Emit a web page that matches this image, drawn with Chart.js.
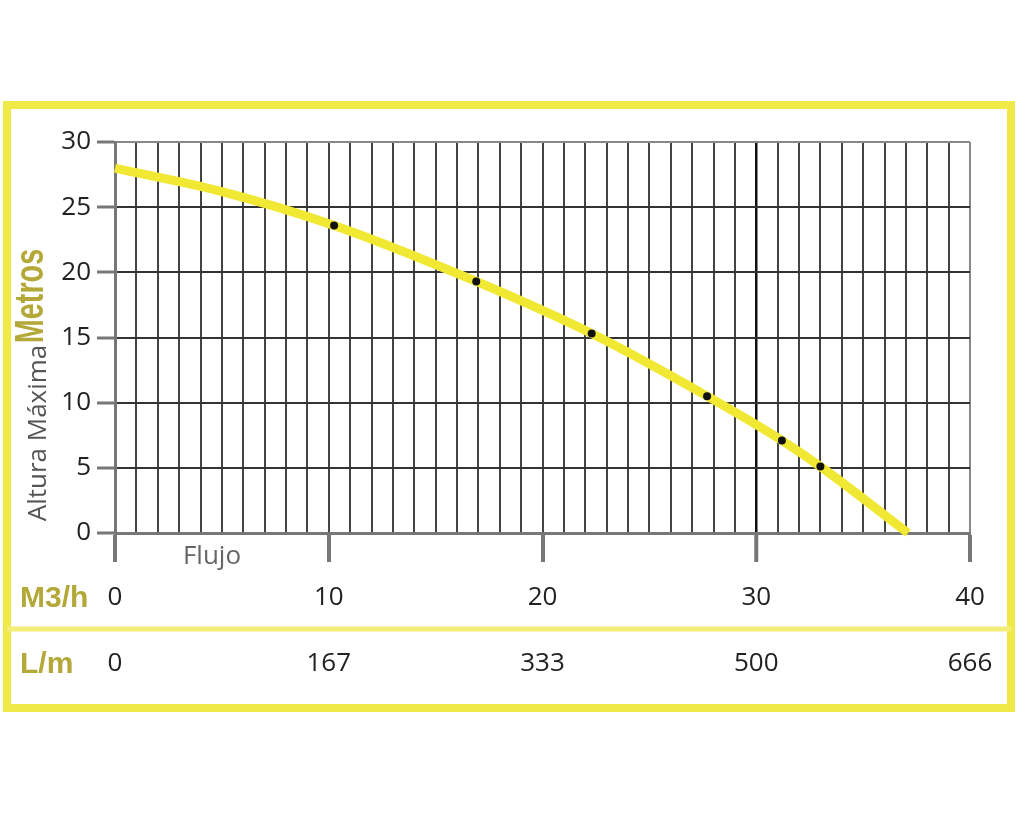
<!DOCTYPE html>
<html>
<head>
<meta charset="utf-8">
<script src="https://cdn.jsdelivr.net/npm/chart.js@4.4.0/dist/chart.umd.min.js"></script>
<style>
  html, body { margin: 0; padding: 0; background: #fff; }
  canvas { display: block; }
</style>
</head>
<body>
<canvas id="curvaBomba" width="1024" height="821" style="width:1024px;height:821px"></canvas>
<script>
// Curva de la bomba
const caudalM3h = [0, 5, 10.25, 16.9, 22.3, 27.7, 31.2, 33, 37.1];
const alturaM = [28, 26.2, 23.6, 19.3, 15.3, 10.5, 7.1, 5.1, 0];
// puntos negros sobre la curva
const puntosCaudal = [10.25, 16.9, 22.3, 27.7, 31.2, 33];
const puntosAltura = [23.6, 19.3, 15.3, 10.5, 7.1, 5.1];
// etiquetas de los ejes
const ticksM3h = [0, 10, 20, 30, 40];
const ticksLm = ['0', '167', '333', '500', '666'];

const AMARILLO = '#f1e833';
const OLIVA = '#b3a838';

const marco = {
    id: 'marco',
    beforeDraw(chart) {
        const c = chart.ctx;
        c.save();
        c.fillStyle = '#fff';
        c.fillRect(0, 0, chart.width, chart.height);
        // recuadro amarillo
        c.strokeStyle = '#f0ea48';
        c.lineWidth = 8;
        c.strokeRect(7, 105, 1004, 603);
        // separador entre M3/h y L/m
        c.strokeStyle = '#f2ee78';
        c.lineWidth = 5;
        c.beginPath();
        c.moveTo(7, 629);
        c.lineTo(1011, 629);
        c.stroke();
        c.restore();
    },
    afterDraw(chart) {
        const c = chart.ctx;
        const x = chart.scales.x;
        c.save();
        // unidades
        c.fillStyle = OLIVA;
        c.font = 'bold 30px "Liberation Sans"';
        c.textAlign = 'left';
        c.textBaseline = 'alphabetic';
        c.fillText('M3/h', 20, 607);
        c.fillText('L/m', 20, 673);

        // fila de litros por minuto
        c.fillStyle = '#222';
        c.font = '26px "Open Sans"';
        c.textAlign = 'center';
        c.textBaseline = 'middle';
        ticksM3h.forEach((v, i) => {
            c.fillText(ticksLm[i], x.getPixelForValue(v), 664);
        });

        // Flujo
        c.fillStyle = '#666';
        c.fillText('Flujo', 212, 557);

        // titulos del eje Y
        c.save();
        c.translate(32, 296);
        c.rotate(-Math.PI / 2);
        c.scale(0.72, 1);
        c.fillStyle = OLIVA;
        c.font = 'bold 40px "Liberation Sans"';
        c.fillText('Metros', 0, 0);
        c.restore();

        c.save();
        c.translate(39, 433);
        c.rotate(-Math.PI / 2);
        c.fillStyle = '#555';
        c.font = '26px "Open Sans"';
        c.fillText('Altura Máxima', 0, 0);
        c.restore();

        c.restore();
    }
};

const ctx = document.getElementById('curvaBomba').getContext('2d');
new Chart(ctx, {
    type: 'scatter',
    data: {
        datasets: [
            {
                label: 'puntos',
                data: puntosCaudal.map((v, i) => ({ x: v, y: puntosAltura[i] })),
                pointRadius: 4,
                pointBackgroundColor: '#111',
                pointBorderWidth: 0,
                order: 0
            },
            {
                label: 'curva',
                data: caudalM3h.map((v, i) => ({ x: v, y: alturaM[i] })),
                showLine: true,
                borderColor: AMARILLO,
                borderWidth: 9,
                pointRadius: 0,
                cubicInterpolationMode: 'monotone',
                clip: 4,
                order: 1
            }
        ]
    },
    options: {
        responsive: false,
        animation: false,
        layout: { padding: { top: 142, right: 54, bottom: 0, left: 0 } },
        plugins: {
            legend: { display: false },
            tooltip: { enabled: false }
        },
        scales: {
            x: {
                type: 'linear',
                min: 0,
                max: 40,
                afterFit: s => { s.height = 288; },
                border: { display: true, color: '#777', width: 3 },
                grid: {
                    color: c => c.tick.value === 30 ? '#111' : (c.tick.value === 0 || c.tick.value === 40) ? '#888' : '#444',
                    lineWidth: c => c.tick.value === 30 ? 2.5 : 2,
                    drawTicks: true,
                    tickLength: 29,
                    tickWidth: 4,
                    tickColor: c => c.tick.value % 10 === 0 ? '#777' : 'rgba(0,0,0,0)'
                },
                ticks: {
                    stepSize: 1,
                    autoSkip: false,
                    maxRotation: 0,
                    padding: 20,
                    color: '#222',
                    font: { family: 'Open Sans', size: 26 },
                    callback: v => ticksM3h.includes(v) ? String(v) : ''
                }
            },
            y: {
                min: 0,
                max: 30,
                afterFit: s => { s.width = 115; },
                border: { display: true, color: '#777', width: 3 },
                grid: {
                    color: c => c.tick.value === 30 ? '#888' : c.tick.value === 0 ? '#777' : '#333',
                    lineWidth: 2,
                    tickLength: 18,
                    tickWidth: 3,
                    tickColor: '#777'
                },
                ticks: {
                    stepSize: 5,
                    padding: 6,
                    color: '#222',
                    font: { family: 'Open Sans', size: 26 }
                }
            }
        }
    },
    plugins: [marco]
});
</script>
</body>
</html>
